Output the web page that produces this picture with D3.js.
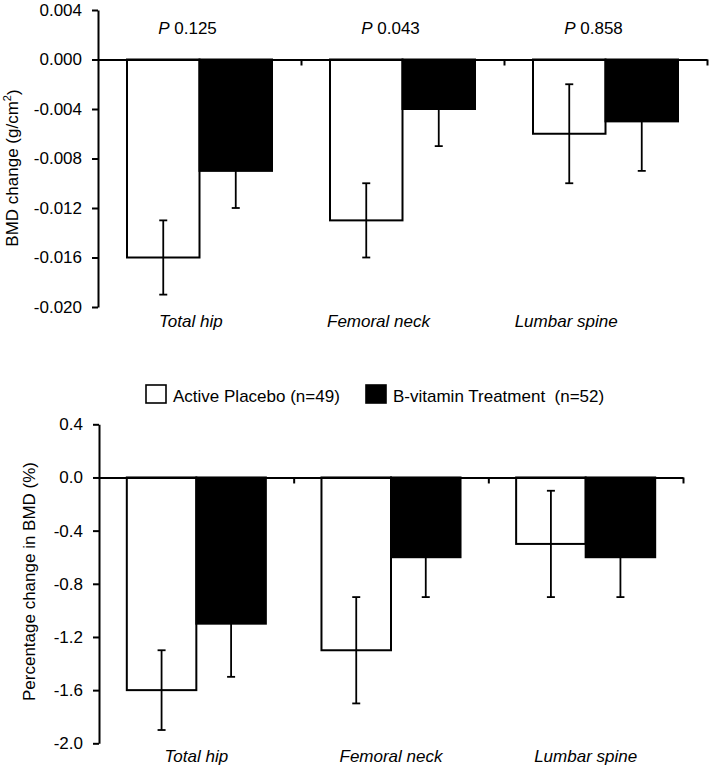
<!DOCTYPE html>
<html>
<head>
<meta charset="utf-8">
<script src="https://cdn.jsdelivr.net/npm/d3@7/dist/d3.min.js"></script>
<style>
  html, body { margin: 0; padding: 0; background: #fff; }
  svg { display: block; }
  text { font-family: "Liberation Sans", Arial, Helvetica, sans-serif; fill: #000; }
</style>
</head>
<body>
<svg id="chart" width="709" height="770"></svg>
<script>
// ---- data ----
const categories = ["Total hip", "Femoral neck", "Lumbar spine"];
const groups = ["Active Placebo (n=49)", "B-vitamin Treatment  (n=52)"];
const groupKeys = ["placebo", "treatment"];

const bmdPlacebo = [-0.016, -0.013, -0.006];
const bmdPlaceboErr = [0.003, 0.003, 0.004];
const bmdTreatment = [-0.009, -0.004, -0.005];
const bmdTreatmentErr = [0.003, 0.003, 0.004];

const pctPlacebo = [-1.6, -1.3, -0.5];
const pctPlaceboErr = [0.3, 0.4, 0.4];
const pctTreatment = [-1.1, -0.6, -0.6];
const pctTreatmentErr = [0.4, 0.3, 0.3];

const pValues = ["0.125", "0.043", "0.858"];

const bmdTicks = [0.004, 0.000, -0.004, -0.008, -0.012, -0.016, -0.020];
const bmdTickLabels = ["0.004", "0.000", "-0.004", "-0.008", "-0.012", "-0.016", "-0.020"];
const pctTicks = [0.4, 0.0, -0.4, -0.8, -1.2, -1.6, -2.0];
const pctTickLabels = ["0.4", "0.0", "-0.4", "-0.8", "-1.2", "-1.6", "-2.0"];

// ---- drawing ----
const svg = d3.select("#chart");
const FS = 17;

function panel(cfg) {
  const g = svg.append("g");
  const x = d3.scaleBand().domain(categories).range([cfg.x0, cfg.x1]).paddingInner(0).paddingOuter(0);
  const xg = d3.scaleBand().domain(groupKeys).range([0, x.bandwidth()]).paddingInner(0).paddingOuter(0.4);
  const y = d3.scaleLinear().domain([cfg.ticks[cfg.ticks.length - 1], cfg.ticks[0]]).range([cfg.y1, cfg.y0]);

  const rows = [];
  categories.forEach((c, i) => {
    rows.push({ c, k: "placebo", v: cfg.placebo[i], e: cfg.placeboErr[i] });
    rows.push({ c, k: "treatment", v: cfg.treatment[i], e: cfg.treatmentErr[i] });
  });

  // bars
  g.selectAll("rect.bar").data(rows).join("rect")
    .attr("class", "bar")
    .attr("x", d => x(d.c) + xg(d.k))
    .attr("width", xg.bandwidth())
    .attr("y", d => y(Math.max(0, d.v)))
    .attr("height", d => Math.abs(y(d.v) - y(0)))
    .attr("fill", d => d.k === "placebo" ? "#fff" : "#000")
    .attr("stroke", "#000")
    .attr("stroke-width", 2);

  // error bars
  const eb = g.selectAll("g.err").data(rows).join("g").attr("class", "err")
    .attr("stroke", "#000").attr("stroke-width", 1.8);
  const cx = d => x(d.c) + xg(d.k) + xg.bandwidth() / 2;
  eb.append("line")
    .attr("x1", cx).attr("x2", cx)
    .attr("y1", d => y(d.v + d.e)).attr("y2", d => y(d.v - d.e));
  eb.append("line")
    .attr("x1", d => cx(d) - 4).attr("x2", d => cx(d) + 4)
    .attr("y1", d => y(d.v + d.e)).attr("y2", d => y(d.v + d.e));
  eb.append("line")
    .attr("x1", d => cx(d) - 4).attr("x2", d => cx(d) + 4)
    .attr("y1", d => y(d.v - d.e)).attr("y2", d => y(d.v - d.e));

  // zero baseline with category boundary ticks
  const xb = d3.scaleLinear().domain([0, categories.length]).range([cfg.x0, cfg.x1]);
  const zAxis = g.append("g").attr("transform", `translate(0,${y(0)})`)
    .call(d3.axisBottom(xb).tickValues(d3.range(1, categories.length + 1)).tickSize(6).tickSizeOuter(0).tickFormat(""));
  zAxis.selectAll("path, line").attr("stroke", "#000").attr("stroke-width", 2);

  // y axis
  const yAxis = g.append("g").attr("transform", `translate(${cfg.x0},0)`)
    .call(d3.axisLeft(y).tickValues(cfg.ticks).tickSize(6).tickSizeOuter(0).tickPadding(10)
      .tickFormat((d, i) => cfg.tickLabels[i]));
  yAxis.selectAll("path, line").attr("stroke", "#000").attr("stroke-width", 2);
  yAxis.selectAll("text").attr("font-size", FS).style("font-family", '"Liberation Sans", Arial, sans-serif').attr("fill", "#000");

  // y axis title
  const yt = g.append("text")
    .attr("transform", `translate(${cfg.yTitleX},${cfg.yTitleY}) rotate(-90)`)
    .attr("text-anchor", "middle").attr("dy", "0.35em").attr("font-size", FS);
  cfg.yTitle(yt);

  // category labels
  const lx = d3.scaleBand().domain(categories).range(cfg.labelRange);
  g.selectAll("text.cat").data(categories).join("text")
    .attr("class", "cat")
    .attr("x", c => lx(c) + lx.bandwidth() / 2)
    .attr("y", cfg.labelY)
    .attr("text-anchor", "middle")
    .attr("font-size", FS)
    .attr("font-style", "italic")
    .text(c => c);

  return { g, x, y };
}

// top panel
const topPanel = panel({
  x0: 98, x1: 707, y0: 10, y1: 307,
  ticks: bmdTicks, tickLabels: bmdTickLabels,
  placebo: bmdPlacebo, placeboErr: bmdPlaceboErr,
  treatment: bmdTreatment, treatmentErr: bmdTreatmentErr,
  yTitleX: 12, yTitleY: 168,
  yTitle: t => {
    t.append("tspan").text("BMD change (g/cm");
    t.append("tspan").attr("font-size", 11).attr("dy", "-0.6em").text("2");
    t.append("tspan").attr("dy", "0.45em").text(")");
  },
  labelRange: [97, 660], labelY: 327
});

// P values
topPanel.g.selectAll("text.pval").data(categories).join("text")
  .attr("class", "pval")
  .attr("x", c => topPanel.x(c) + topPanel.x.bandwidth() / 2 - 12)
  .attr("y", 33.5)
  .attr("text-anchor", "middle")
  .attr("font-size", FS)
  .each(function (c, i) {
    const t = d3.select(this);
    t.append("tspan").attr("font-style", "italic").text("P");
    t.append("tspan").text(" " + pValues[i]);
  });

// bottom panel
panel({
  x0: 99, x1: 683, y0: 424.3, y1: 743.3,
  ticks: pctTicks, tickLabels: pctTickLabels,
  placebo: pctPlacebo, placeboErr: pctPlaceboErr,
  treatment: pctTreatment, treatmentErr: pctTreatmentErr,
  yTitleX: 29, yTitleY: 581.5,
  yTitle: t => t.text("Percentage change in BMD (%)"),
  labelRange: [99, 683], labelY: 762
});

// legend
const legendX = [146, 366];
const lg = svg.append("g");
groups.forEach((name, i) => {
  lg.append("rect")
    .attr("x", legendX[i]).attr("y", 385)
    .attr("width", 20).attr("height", 18)
    .attr("fill", i === 0 ? "#fff" : "#000")
    .attr("stroke", "#000").attr("stroke-width", 1.6);
  lg.append("text")
    .attr("x", legendX[i] + 27).attr("y", 401.5)
    .attr("font-size", FS)
    .style("white-space", "pre")
    .text(name);
});
</script>
</body>
</html>
